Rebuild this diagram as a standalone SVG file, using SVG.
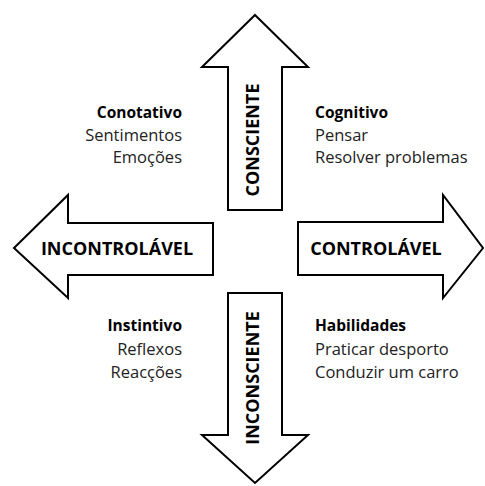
<svg xmlns="http://www.w3.org/2000/svg" width="485" height="486" viewBox="0 0 485 486">
<style>
.arrow{fill:#fff;stroke:#000;stroke-width:2;stroke-linejoin:miter}
.lbl{font-family:"Open Sans","Liberation Sans",sans-serif;font-weight:bold;font-size:18px;fill:#000}
.hd{font-family:"Open Sans","Liberation Sans",sans-serif;font-weight:bold;font-size:15.5px;fill:#000}
.it{font-family:"Open Sans","Liberation Sans",sans-serif;font-size:16.5px;fill:#222}
</style>
<rect width="485" height="486" fill="#fff"/>
<g id="connectors">
<g id="up"><polygon class="arrow" points="255,15 308,67 282,67 282,210 228,210 228,67 202,67"/>
<text class="lbl" transform="translate(259,140) rotate(-90)" text-anchor="middle">CONSCIENTE</text></g>
<g id="down"><polygon class="arrow" points="228,293 282,293 282,435 308,435 255,483 202,435 228,435"/>
<text class="lbl" transform="translate(259,378) rotate(-90)" text-anchor="middle">INCONSCIENTE</text></g>
<g id="left"><polygon class="arrow" points="14,248 68,195 68,223 213,223 213,275 68,275 68,298"/>
<text class="lbl" x="117" y="255" text-anchor="middle">INCONTROLÁVEL</text></g>
<g id="right"><polygon class="arrow" points="298,222 443,222 443,195 483,248 443,298 443,275 298,275"/>
<text class="lbl" x="376" y="255" text-anchor="middle">CONTROLÁVEL</text></g>
</g>
<g id="conotativo" text-anchor="end">
<text class="hd" x="182" y="118">Conotativo</text>
<text class="it" x="182" y="141">Sentimentos</text>
<text class="it" x="182" y="163">Emoções</text>
</g>
<g id="cognitivo">
<text class="hd" x="315" y="118">Cognitivo</text>
<text class="it" x="315" y="141">Pensar</text>
<text class="it" x="315" y="163">Resolver problemas</text>
</g>
<g id="instintivo" text-anchor="end">
<text class="hd" x="182" y="331">Instintivo</text>
<text class="it" x="182" y="355">Reflexos</text>
<text class="it" x="182" y="378">Reacções</text>
</g>
<g id="habilidades">
<text class="hd" x="315" y="331">Habilidades</text>
<text class="it" x="315" y="355">Praticar desporto</text>
<text class="it" x="315" y="378">Conduzir um carro</text>
</g>
</svg>
